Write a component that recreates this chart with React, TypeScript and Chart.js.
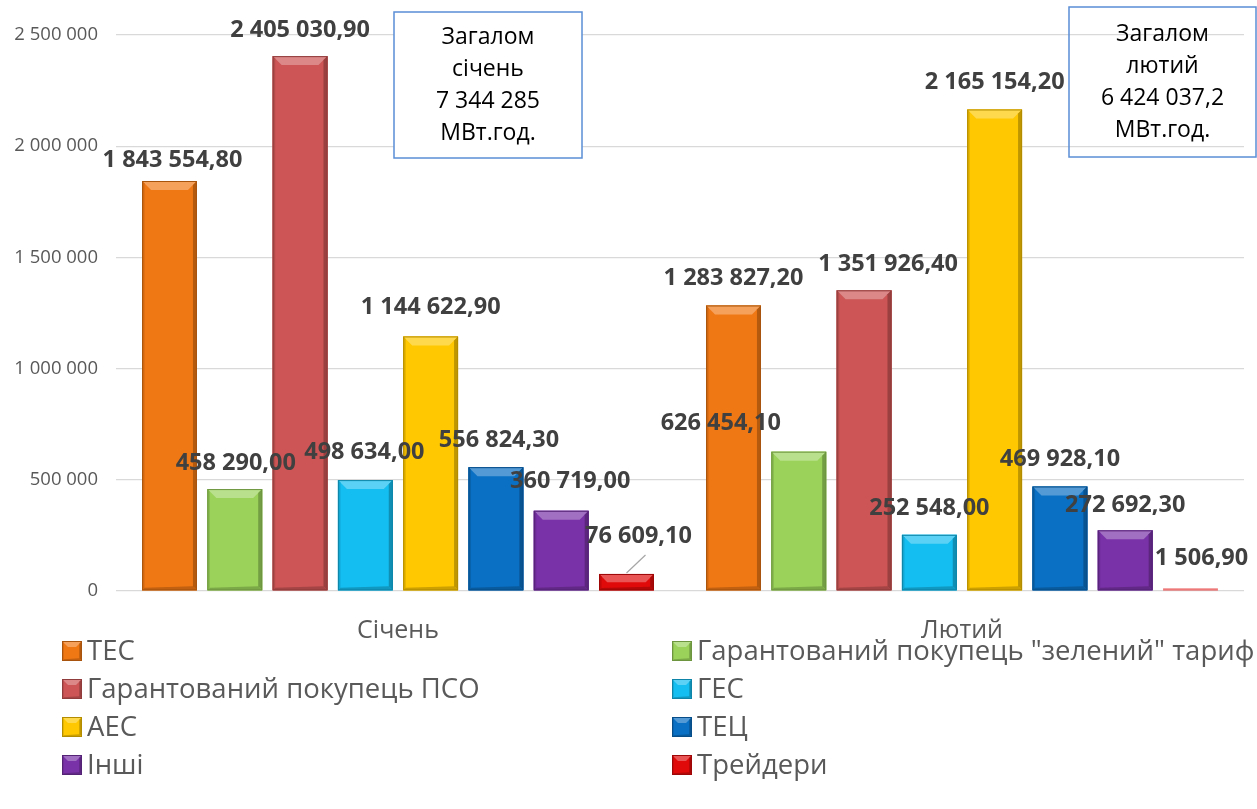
import { useEffect, useRef } from "react";
import { Chart, registerables } from "chart.js";

Chart.register(...registerables);

const categories = ["Січень", "Лютий"];
const seriesNames = [
  "ТЕС",
  "Гарантований покупець \"зелений\" тариф",
  "Гарантований покупець ПСО",
  "ГЕС",
  "АЕС",
  "ТЕЦ",
  "Інші",
  "Трейдери",
];
const tesValues = [1843554.8, 1283827.2];
const greenTariffValues = [458290.0, 626454.1];
const psoValues = [2405030.9, 1351926.4];
const gesValues = [498634.0, 252548.0];
const aesValues = [1144622.9, 2165154.2];
const tecValues = [556824.3, 469928.1];
const otherValues = [360719.0, 272692.3];
const tradersValues = [76609.1, 1506.9];
const seriesValues = [tesValues, greenTariffValues, psoValues, gesValues, aesValues, tecValues, otherValues, tradersValues];
const yTickValues = [0, 500000, 1000000, 1500000, 2000000, 2500000];
const totalsText = [
  ["Загалом", "січень", "7 344 285", "МВт.год."],
  ["Загалом", "лютий", "6 424 037,2", "МВт.год."],
];

// styles
const seriesColors = ["#F07814", "#9BD35A", "#CD5555", "#14BEF0", "#FFC800", "#0A70C4", "#7A32A8", "#E00A0A"];
// label shifts [dx, dy] per series per category (dy = distance of label centre above bar top)
const labelShift: number[][][] = [
  [[3, 21], [0, 27]],
  [[1, 26], [-78, 28]],
  [[0, 26], [24, 26]],
  [[-1, 28], [0, 27]],
  [[0, 29], [0, 27]],
  [[3, 27], [0, 27]],
  [[9, 29], [0, 25]],
  [[12, 38], [11, 31]],
];
const FONT = "'Open Sans', 'Noto Sans', sans-serif";

function fmtNum(v: number, dec: number) {
  const fixed = v.toFixed(dec);
  const [int, frac] = fixed.split(".");
  const grouped = int.replace(/\B(?=(\d{3})+(?!\d))/g, " ");
  return frac ? grouped + "," + frac : grouped;
}

function hexToRgb(h: string) {
  const n = parseInt(h.slice(1), 16);
  return [(n >> 16) & 255, (n >> 8) & 255, n & 255];
}
function mix(h: string, target: number, t: number) {
  const [r, g, b] = hexToRgb(h);
  const m = (c: number) => Math.round(c + (target - c) * t);
  return `rgb(${m(r)},${m(g)},${m(b)})`;
}

function drawBevelRect(ctx: CanvasRenderingContext2D, color: string, left: number, top: number, right: number, bottom: number, bev: number) {
  const w = right - left;
  const h = bottom - top;
  ctx.save();
  ctx.fillStyle = color;
  ctx.fillRect(left, top, w, h);
  const b = Math.min(bev, h / 2, w / 2);
  if (b > 1) {
    ctx.fillStyle = mix(color, 255, 0.3);
    ctx.beginPath();
    ctx.moveTo(left, top);
    ctx.lineTo(right, top);
    ctx.lineTo(right - b, top + b);
    ctx.lineTo(left + b, top + b);
    ctx.closePath();
    ctx.fill();
    const rb = Math.min(b * 0.45, 4);
    ctx.fillStyle = mix(color, 0, 0.25);
    ctx.beginPath();
    ctx.moveTo(right, top);
    ctx.lineTo(right, bottom);
    ctx.lineTo(right - rb, bottom - rb);
    ctx.lineTo(right - rb, top + rb);
    ctx.closePath();
    ctx.fill();
    const lb = Math.min(b * 0.3, 2.5);
    ctx.fillStyle = mix(color, 0, 0.12);
    ctx.beginPath();
    ctx.moveTo(left, top);
    ctx.lineTo(left + lb, top + lb);
    ctx.lineTo(left + lb, bottom - lb);
    ctx.lineTo(left, bottom);
    ctx.closePath();
    ctx.fill();
    ctx.fillStyle = mix(color, 0, 0.2);
    ctx.beginPath();
    ctx.moveTo(left, bottom);
    ctx.lineTo(right, bottom);
    ctx.lineTo(right - rb, bottom - rb);
    ctx.lineTo(left + lb, bottom - lb);
    ctx.closePath();
    ctx.fill();
  }
  ctx.strokeStyle = mix(color, 0, 0.3);
  ctx.lineWidth = 1;
  ctx.strokeRect(left + 0.5, top + 0.5, w - 1, Math.max(h - 1, 0.5));
  ctx.restore();
}

const decoPlugin = {
  id: "deco",
  afterDatasetsDraw(chart: any) {
    const ctx: CanvasRenderingContext2D = chart.ctx;
    chart.data.datasets.forEach((ds: any, di: number) => {
      const meta = chart.getDatasetMeta(di);
      meta.data.forEach((el: any) => {
        const p = el.getProps(["x", "y", "base", "width"], true);
        const left = p.x - p.width / 2;
        const right = p.x + p.width / 2;
        const top = Math.min(p.y, p.base);
        const bottom = Math.max(p.y, p.base);
        const h = bottom - top;
        if (h < 4) {
          ctx.save();
          ctx.fillStyle = mix(seriesColors[di], 255, 0.45);
          ctx.fillRect(left, bottom - 2, p.width, 2);
          ctx.restore();
        } else {
          drawBevelRect(ctx, seriesColors[di], left, top, right, bottom, 9);
        }
      });
    });
  },
  afterDraw(chart: any) {
    const ctx: CanvasRenderingContext2D = chart.ctx;
    chart.data.datasets.forEach((ds: any, di: number) => {
      const meta = chart.getDatasetMeta(di);
      meta.data.forEach((el: any, i: number) => {
        const p = el.getProps(["x", "y", "base", "width"], true);
        const [dx, dy] = labelShift[di][i];
        const lx = p.x + dx;
        const ly = Math.min(p.y, p.base - 1) - dy;
        ctx.save();
        ctx.font = `bold 23.5px ${FONT}`;
        ctx.fillStyle = "#404040";
        ctx.textAlign = "center";
        ctx.textBaseline = "middle";
        ctx.fillText(fmtNum(ds.data[i], 2), lx, ly);
        if (dy > 34) {
          ctx.strokeStyle = "#A6A6A6";
          ctx.lineWidth = 1.2;
          ctx.beginPath();
          ctx.moveTo(p.x, p.y - 1);
          ctx.lineTo(lx + 7, ly + 19);
          ctx.stroke();
        }
        ctx.restore();
      });
    });
    const boxes = [
      { l: 394, t: 12, r: 582, b: 158, fill: true },
      { l: 1069, t: 7, r: 1256, b: 157, fill: false },
    ];
    boxes.forEach((bx, k) => {
      ctx.save();
      if (bx.fill) {
        ctx.fillStyle = "#FFFFFF";
        ctx.fillRect(bx.l, bx.t, bx.r - bx.l, bx.b - bx.t);
      }
      ctx.strokeStyle = "#5B8FD6";
      ctx.lineWidth = 1.5;
      ctx.strokeRect(bx.l, bx.t, bx.r - bx.l, bx.b - bx.t);
      ctx.fillStyle = "#000000";
      ctx.font = `23px ${FONT}`;
      ctx.textAlign = "center";
      ctx.textBaseline = "middle";
      const cx = (bx.l + bx.r) / 2;
      const cy = (bx.t + bx.b) / 2;
      totalsText[k].forEach((line, j) => {
        ctx.fillText(line, cx, cy + (j - 1.5) * 32);
      });
      ctx.restore();
    });
    const colX = [62, 672];
    const rowY = [651, 689, 727, 765];
    seriesNames.forEach((name, i) => {
      const x = colX[i % 2];
      const y = rowY[Math.floor(i / 2)];
      drawBevelRect(ctx, seriesColors[i], x, y - 10, x + 20, y + 10, 6);
      ctx.save();
      ctx.fillStyle = "#595959";
      ctx.font = `27.5px ${FONT}`;
      ctx.textAlign = "left";
      ctx.textBaseline = "middle";
      ctx.fillText(name, x + 25, y + 1);
      ctx.restore();
    });
  },
};

export default function App() {
  const ref = useRef<HTMLCanvasElement | null>(null);
  useEffect(() => {
    if (!ref.current) return;
    const chart = new Chart(ref.current, {
      type: "bar",
      data: {
        labels: categories,
        datasets: seriesNames.map((name, i) => ({
          label: name,
          data: seriesValues[i],
          backgroundColor: seriesColors[i],
          borderWidth: 0,
          minBarLength: 1,
          barPercentage: 0.84,
          categoryPercentage: 0.926,
        })),
      },
      options: {
        animation: false,
        responsive: true,
        maintainAspectRatio: false,
        layout: { padding: { top: 35, right: 13, left: 0, bottom: 0 } },
        plugins: { legend: { display: false }, tooltip: { enabled: false } },
        scales: {
          x: {
            grid: { display: false },
            border: { display: false },
            ticks: { color: "#595959", font: { family: FONT, size: 25 }, padding: 17 },
            afterFit: (s: any) => {
              s.height = 218;
            },
          },
          y: {
            min: 0,
            max: 2500000,
            afterBuildTicks: (s: any) => {
              s.ticks = yTickValues.map((v) => ({ value: v }));
            },
            grid: { color: "#D9D9D9", lineWidth: 1.3, drawTicks: false },
            border: { display: false },
            ticks: {
              color: "#595959",
              font: { family: FONT, size: 18.5 },
              padding: 18,
              callback: (v: any) => fmtNum(Number(v), 0),
            },
            afterFit: (s: any) => {
              s.width = 116;
            },
          },
        },
      },
      plugins: [decoPlugin],
    });
    return () => chart.destroy();
  }, []);
  return (
    <div style={{ position: "fixed", left: 0, top: 0, width: 1257, height: 809, background: "#FFFFFF" }}>
      <canvas ref={ref} />
    </div>
  );
}
